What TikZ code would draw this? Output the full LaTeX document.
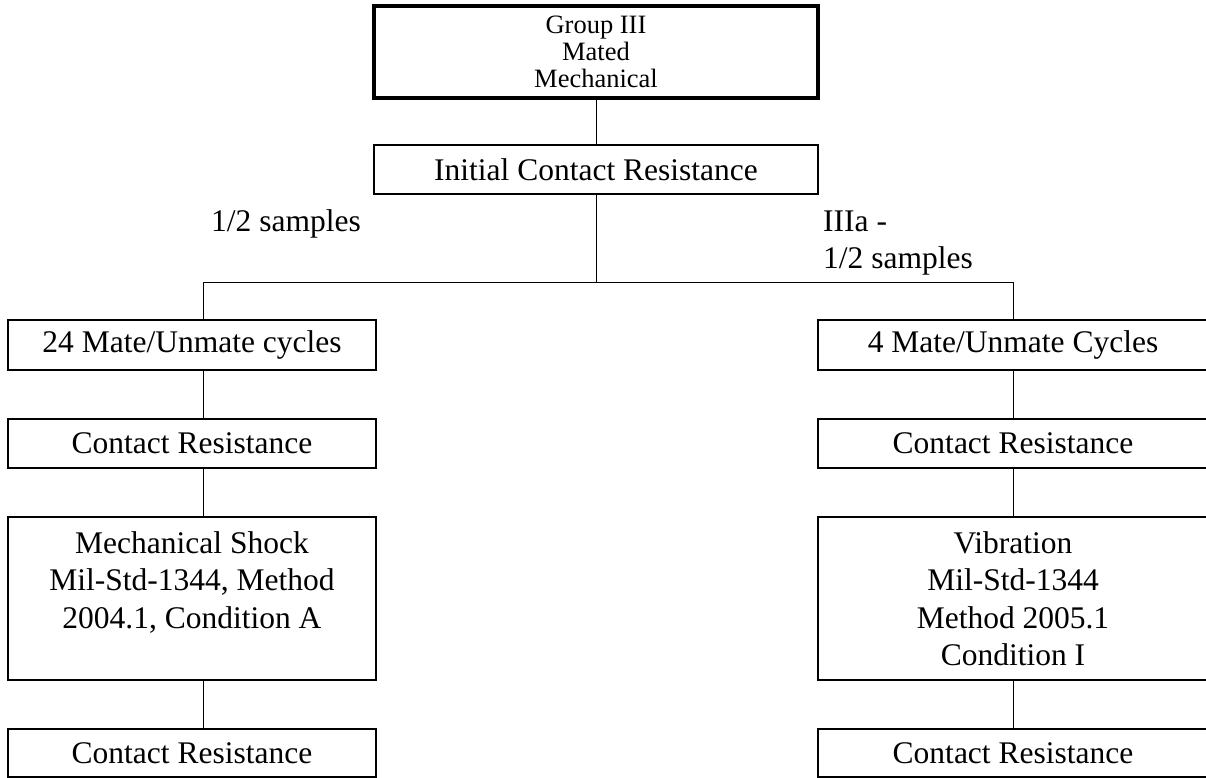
\documentclass[tikz,border=0pt]{standalone}
\usepackage{fontspec}
\setmainfont{Liberation Serif}
\begin{document}
\begin{tikzpicture}[x=1pt,y=-1pt,
  box/.style={draw, line width=2pt, rectangle, inner sep=0pt, outer sep=0pt, align=center,
    font=\fontsize{31.5}{37.5}\selectfont},
  topbox/.style={box, line width=4pt, font=\fontsize{26.5}{27}\selectfont},
  conn/.style={line width=1pt},
  lbl/.style={inner sep=0pt, font=\fontsize{31.5}{37.5}\selectfont}]
\useasboundingbox (0,0) rectangle (1206,778);
% boxes
\node[topbox, minimum width=444pt, minimum height=92pt] (top) at (596,52) {Group III\\Mated\\Mechanical};
\node[box, minimum width=444pt, minimum height=49pt] (init) at (596,169.5) {Initial Contact Resistance};
\node[box, minimum width=368pt, minimum height=50pt] (L1) at (192,345) {24 Mate/Unmate cycles};
\node[box, minimum width=368pt, minimum height=49pt] (L2) at (192,443.5) {Contact Resistance};
\node[box, minimum width=368pt, minimum height=163pt] (L3) at (192,598.5) {Mechanical Shock\\Mil-Std-1344, Method\\2004.1, Condition A\\\mbox{}};
\node[box, minimum width=368pt, minimum height=48pt] (L4) at (192,753) {Contact Resistance};
\node[box, minimum width=390pt, minimum height=50pt] (R1) at (1013,345) {4 Mate/Unmate Cycles};
\node[box, minimum width=390pt, minimum height=49pt] (R2) at (1013,443.5) {Contact Resistance};
\node[box, minimum width=390pt, minimum height=163pt] (R3) at (1013,598.5) {Vibration\\Mil-Std-1344\\Method 2005.1\\Condition I};
\node[box, minimum width=390pt, minimum height=48pt] (R4) at (1013,753) {Contact Resistance};
% labels
\node[lbl, anchor=base west] (lblL) at (211,231) {1/2 samples};
\node[lbl, anchor=base west] (lblR1) at (823,231) {IIIa -};
\node[lbl, anchor=base west] (lblR2) at (823,268) {1/2 samples};
% coordinates
\coordinate (split) at (596,282);
\coordinate (lx) at (203,282);
\coordinate (rx) at (1013,282);
% connectors
\draw[conn] (top.south) -- (init.north);
\draw[conn] (init.south) -- (split);
\draw[conn] (lx) -- (rx);
\draw[conn] (lx) -- (L1.north -| lx);
\draw[conn] (rx) -- (R1.north -| rx);
\draw[conn] (L1.south -| lx) -- (L2.north -| lx);
\draw[conn] (L2.south -| lx) -- (L3.north -| lx);
\draw[conn] (L3.south -| lx) -- (L4.north -| lx);
\draw[conn] (R1.south -| rx) -- (R2.north -| rx);
\draw[conn] (R2.south -| rx) -- (R3.north -| rx);
\draw[conn] (R3.south -| rx) -- (R4.north -| rx);
\end{tikzpicture}
\end{document}
